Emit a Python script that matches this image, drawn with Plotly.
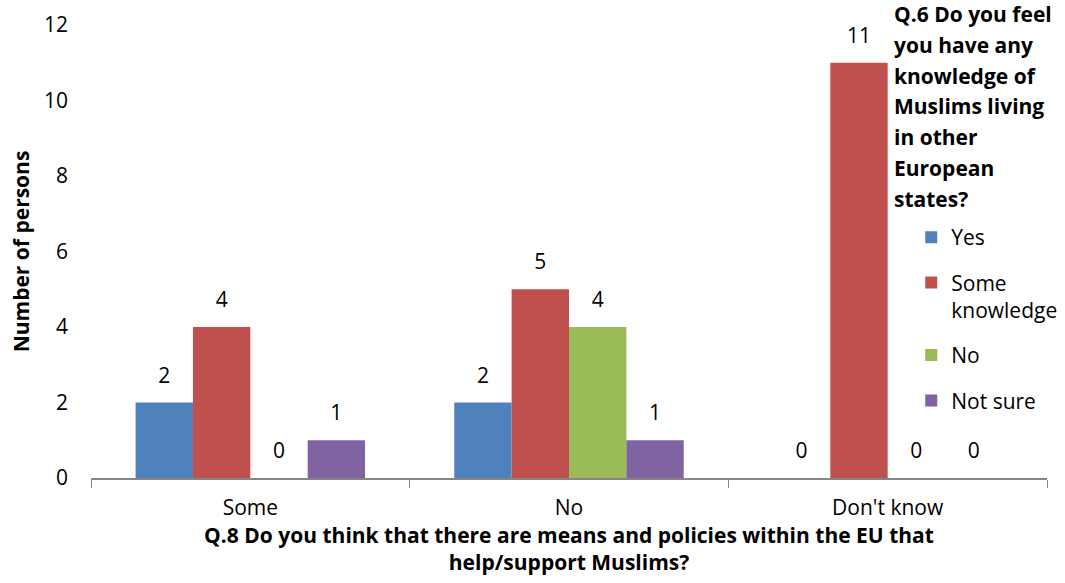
import plotly.graph_objects as go

categories = ["Some", "No", "Don't know"]
series_names = ["Yes", "Some<br>knowledge", "No", "Not sure"]
yes_vals = [2, 2, 0]
some_knowledge_vals = [4, 5, 11]
no_vals = [0, 4, 0]
not_sure_vals = [1, 1, 0]
colors = ["#4F81BD", "#C0504D", "#9BBB59", "#8064A2"]
y_ticks = [0, 2, 4, 6, 8, 10, 12]
legend_title_lines = ["Q.6 Do you feel", "you have any", "knowledge of",
                      "Muslims living", "in other", "European", "states?"]

FONT = "Open Sans, sans-serif"
all_vals = [yes_vals, some_knowledge_vals, no_vals, not_sure_vals]

fig = go.Figure()
for i, (name, vals) in enumerate(zip(series_names, all_vals)):
    fig.add_trace(go.Bar(
        x=categories, y=vals, name=name,
        marker=dict(color=colors[i], line=dict(width=0)),
        offsetgroup=f"s{i}", legendgroup=f"g{i}",
    ))

# value labels, grouped the same way as the bars
for i, vals in enumerate(all_vals):
    fig.add_trace(go.Scatter(
        x=categories, y=vals, mode="markers+text",
        text=[str(v) for v in vals], textposition="top center",
        textfont=dict(size=21, color="#000000", family=FONT),
        marker=dict(size=22, color="rgba(0,0,0,0)"),
        offsetgroup=f"s{i}", showlegend=False, hoverinfo="skip",
        cliponaxis=False,
    ))

# legend heading, one line at a time
for k, line in enumerate(legend_title_lines):
    fig.add_annotation(
        xref="paper", yref="paper", x=0.838, y=1.0, yshift=11 - 30.8 * k,
        xanchor="left", yanchor="middle", align="left", showarrow=False,
        text=f"<b>{line}</b>",
        font=dict(size=21, color="#000000", family=FONT),
    )

fig.update_layout(
    width=1065, height=583,
    margin=dict(l=91, r=18, t=25, b=105, autoexpand=False),
    paper_bgcolor="white", plot_bgcolor="white",
    font=dict(family=FONT, size=21, color="#000000"),
    barmode="group", bargap=0.28, bargroupgap=0,
    scattermode="group", scattergap=0.28,
    showlegend=True,
    legend=dict(
        x=0.858, y=0.576, xanchor="left", yanchor="top",
        font=dict(size=21, family=FONT), valign="top",
        tracegroupgap=15, bgcolor="rgba(0,0,0,0)",
    ),
    xaxis=dict(
        range=[-0.5, 2.5],
        showline=True, linecolor="#868686", linewidth=1.5,
        ticks="outside", tickson="boundaries", ticklen=8, tickcolor="#868686",
        tickfont=dict(size=21), showgrid=False, ticklabelstandoff=10,
        title=dict(
            text="<b>Q.8 Do you think that there are means and policies within the EU that<br>help/support Muslims?</b>",
            font=dict(size=21), standoff=8,
        ),
    ),
    yaxis=dict(
        range=[0, 12], tickvals=y_ticks, showgrid=False, showline=False,
        zeroline=False, ticks="", tickfont=dict(size=21), ticklabelstandoff=22,
        title=dict(text="<b>Number of persons</b>", font=dict(size=21), standoff=8),
    ),
)

fig.write_html("out.html")
